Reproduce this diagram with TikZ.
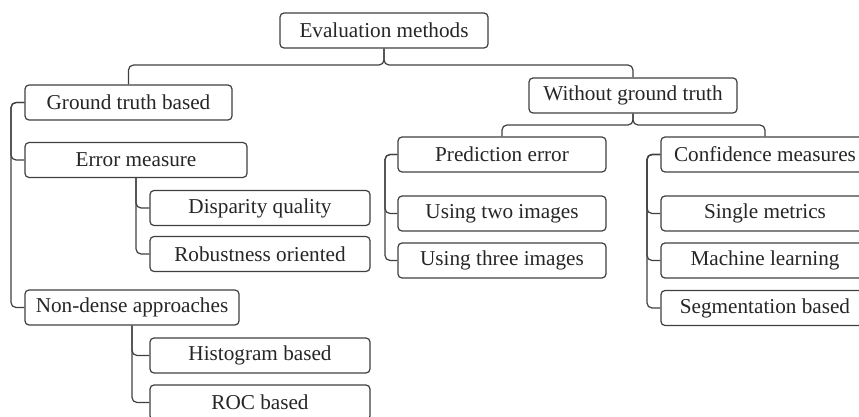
\documentclass[tikz,border=0pt]{standalone}
\usepackage{fontspec}
\setmainfont{Liberation Serif}

\begin{document}
\begin{tikzpicture}[x=0.5pt, y=-0.5pt,
    box/.style={draw=black!75, line width=0.6pt, rounded corners=2pt, fill=white,
        minimum height=17.5pt, inner sep=0pt, text=black!85,
        font=\fontsize{10.6}{12}\selectfont},
    wide/.style={box, minimum width=110pt},
    conn/.style={draw=black!75, line width=0.6pt, rounded corners=2.5pt}]
    \useasboundingbox (0, 0) rectangle (859, 417);
    \clip (0, 0) rectangle (859, 417);

    % top levels
    \node[box, minimum width=104pt] (root) at(384, 30.5){Evaluation methods};
    \node[box, minimum width=103.5pt] (gt) at(128.5, 102.5){Ground truth based};
    \node[box, minimum width=104pt] (wgt) at(633, 95.5){Without ground truth};

    % ground truth side
    \node[box, minimum width=111pt] (err) at(136, 160){Error measure};
    \node[wide] (disp) at(260, 208){Disparity quality};
    \node[wide] (rob) at(260, 254){Robustness oriented};
    \node[box, minimum width=107pt] (nond) at(132, 307.5){Non-dense approaches};
    \node[wide] (hist) at(260, 355.5){Histogram based};
    \node[wide] (roc) at(260, 402.5){ROC based};

    % without ground truth side
    \node[box, minimum width=104pt] (pred) at(502, 154.5){Prediction error};
    \node[box, minimum width=104pt] (two) at(502, 213.5){Using two images};
    \node[box, minimum width=104pt] (three) at(502, 260.5){Using three images};
    \node[box, minimum width=104pt] (conf) at(765, 154.5){Confidence measures};
    \node[box, minimum width=104pt] (single) at(765, 213.5){Single metrics};
    \node[box, minimum width=104pt] (mach) at(765, 260.5){Machine learning};
    \node[box, minimum width=104pt] (seg) at(765, 308){Segmentation based};

    % braces under the parents
    \coordinate (rootbar) at(384, 65);
    \coordinate (wgtbar) at(633, 125);
    \draw[conn] (root.south) |- (gt.north |- rootbar) -- (gt.north);
    \draw[conn] (root.south) |- (wgt.north |- rootbar) -- (wgt.north);
    \draw[conn] (wgt.south) |- (pred.north |- wgtbar) -- (pred.north);
    \draw[conn] (wgt.south) |- (conf.north |- wgtbar) -- (conf.north);

    % side buses
    \coordinate (gtbus) at(11, 0);
    \coordinate (predbus) at(385, 0);
    \coordinate (confbus) at(647, 0);
    \draw[conn] (gt.west) -| (gtbus |- err.west) -- (err.west);
    \draw[conn] (gt.west) -| (gtbus |- nond.west) -- (nond.west);
    \draw[conn] (pred.west) -| (predbus |- two.west) -- (two.west);
    \draw[conn] (pred.west) -| (predbus |- three.west) -- (three.west);
    \draw[conn] (conf.west) -| (confbus |- single.west) -- (single.west);
    \draw[conn] (conf.west) -| (confbus |- mach.west) -- (mach.west);
    \draw[conn] (conf.west) -| (confbus |- seg.west) -- (seg.west);

    % drops from the box bottoms
    \draw[conn] (err.south) |- (disp.west);
    \draw[conn] (err.south) |- (rob.west);
    \draw[conn] (nond.south) |- (hist.west);
    \draw[conn] (nond.south) |- (roc.west);
\end{tikzpicture}
\end{document}
